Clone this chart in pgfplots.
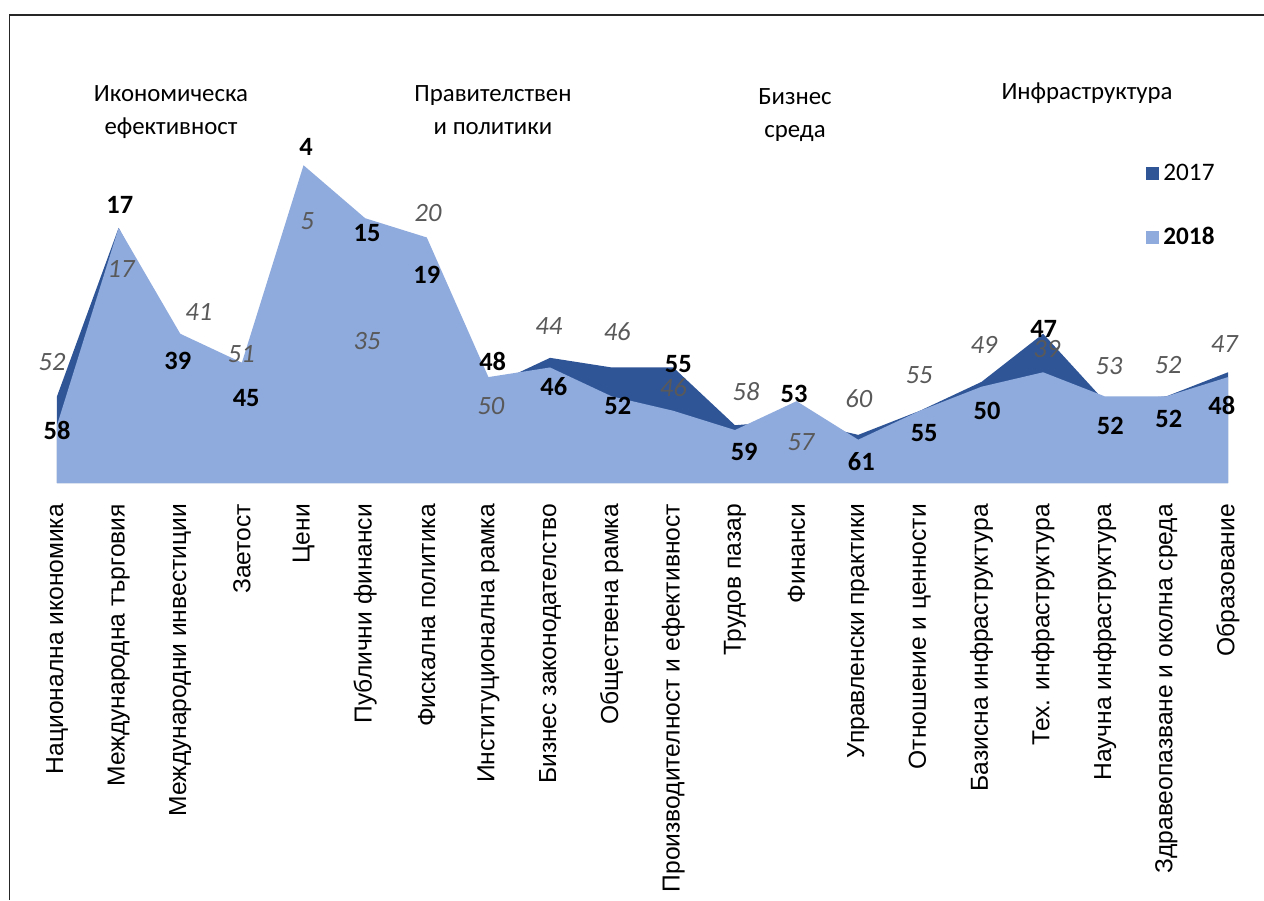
\documentclass[border=0pt]{standalone}
\usepackage{fontspec}
\setmainfont{Carlito}
\newfontfamily\arialf{Liberation Sans}
\usepackage{pgfplots}
\usepackage{pgfplotstable}
\pgfplotsset{compat=1.18}

\definecolor{dk}{HTML}{2F5597}
\definecolor{lt}{HTML}{8FAADC}
\definecolor{lab}{HTML}{595959}

% ranks (lower = better); a = dark series, b = light series
\pgfplotstableread{
x a b
0 52 58
1 17 17
2 41 39
3 51 45
4 5 4
5 35 15
6 20 19
7 50 48
8 44 46
9 46 52
10 46 55
11 58 59
12 57 53
13 60 61
14 55 55
15 49 50
16 39 47
17 53 52
18 52 52
19 47 48
}\ranks

% label positions (x in categories, y in rank units)
\pgfplotstableread{
x y lab
0 59.1 58
1.02 12.2 17
1.96 44.6 39
3.07 52.3 45
4.04 0.2 4
5.03 18 15
6.0 26.7 19
7.07 44.8 48
8.06 50 46
9.1 53.9 52
10.08 45.2 55
11.15 63.6 59
11.96 51.4 53
13.05 65.5 61
14.07 59.7 55
15.09 55 50
16.01 38 47
17.09 58.1 52
18.04 56.6 52
18.9 53.9 48
}\boldlab

\pgfplotstableread{
x y lab
-0.08 44.8 52
1.04 25.6 17
2.3 34.5 41
2.99 43.2 51
4.06 15.7 5
5.03 40.5 35
6.02 14.0 20
7.04 54.1 50
7.98 37.4 44
9.09 38.6 46
10.0 50.2 46
11.18 51 58
12.07 61.6 57
13.01 52.5 60
13.99 47.5 55
15.04 41.3 49
16.06 42.1 39
17.07 45.7 53
18.03 45.5 52
18.94 41.1 47
}\itallab

\begin{document}
\begin{tikzpicture}
\useasboundingbox (0,0) rectangle (632pt,450pt);
\draw[line width=0.65pt, black!85] (4.75pt,0pt) |- (632pt,442.5pt);

\begin{axis}[
    at={(28.5pt,208.5pt)}, anchor=south west,
    scale only axis, width=585.5pt, height=168.5pt,
    xmin=0, xmax=19, ymin=0, ymax=70,
    y dir=reverse,
    clip=false,
    axis line style={draw=none},
    hide y axis,
    xtick={0,...,19},
    xticklabels={Национална икономика, Международна търговия, Международни инвестиции, Заетост, Цени, Публични финанси, Фискална политика, Институционална рамка, Бизнес законодателство, Обществена рамка, Производителност и ефективност, Трудов пазар, Финанси, Управленски практики, Отношение и ценности, Базисна инфраструктура, Тех. инфраструктура, Научна инфраструктура, Здравеопазване и околна среда, Образование},
    major tick length=0pt,
    x tick label style={rotate=90, anchor=east, font=\arialf\fontsize{12.3}{14}\selectfont},
    xticklabel shift=7pt,
    legend style={at={(0.93,0.822)}, anchor=west, draw=none, fill=none,
        inner sep=0pt, row sep=18pt, font=\fontsize{12.6}{14}\selectfont},
    legend cell align=left,
    legend image code/.code={\fill[#1] (0pt,-3.25pt) rectangle (6.5pt,3.25pt);},
]
\addplot[fill=dk, draw=none] table[x=x, y=a] {\ranks} |- (axis cs:0,70) -- cycle;
\addlegendentry{2017}
\addplot[fill=lt, draw=none] table[x=x, y=b] {\ranks} |- (axis cs:0,70) -- cycle;
\addlegendentry{\textbf{2018}}

\addplot[forget plot, draw=none, mark=none, nodes near coords, point meta=explicit symbolic,
    every node near coord/.append style={anchor=center, inner sep=0pt,
        font=\fontsize{13.2}{15}\selectfont\bfseries, text=black}]
    table[x=x, y=y, meta=lab] {\boldlab};
\addplot[forget plot, draw=none, mark=none, nodes near coords, point meta=explicit symbolic,
    every node near coord/.append style={anchor=center, inner sep=0pt,
        font=\fontsize{13.2}{15}\selectfont\itshape, text=lab}]
    table[x=x, y=y, meta=lab] {\itallab};
\end{axis}

\begin{scope}[every node/.style={align=center, font=\fontsize{12.4}{16.5}\selectfont}]
\node at (85.5pt,393.75pt) {Икономическа\\ефективност};
\node at (246.5pt,394.75pt) {Правителствен\\и политики};
\node at (397.5pt,392.5pt) {Бизнес\\среда};
\node at (543.5pt,403.5pt) {Инфраструктура};
\end{scope}
\end{tikzpicture}
\end{document}
